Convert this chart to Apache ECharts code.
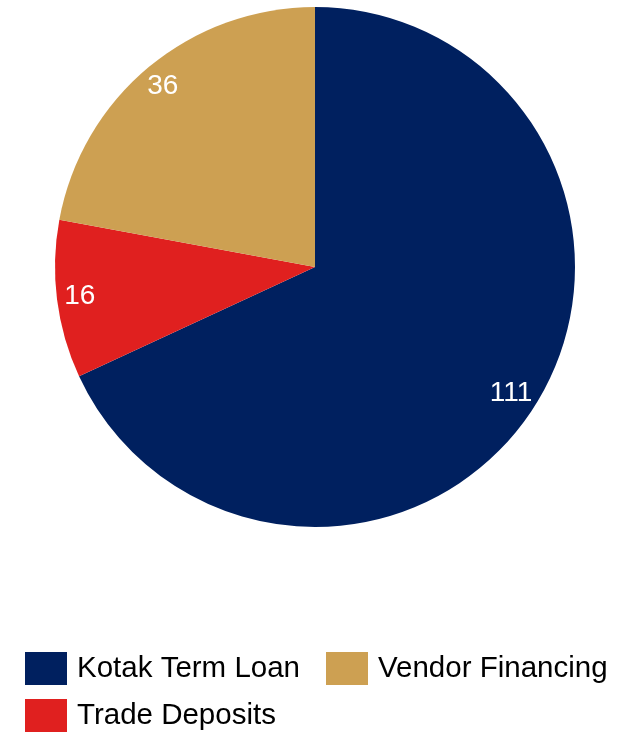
<!DOCTYPE html>
<html>
<head>
<meta charset="utf-8">
<script src="https://cdn.jsdelivr.net/npm/echarts@6/dist/echarts.min.js"></script>
<style>
html,body{margin:0;padding:0;background:#fff;}
#chart{width:636px;height:735px;}
</style>
</head>
<body>
<div id="chart"></div>
<script>
// Data (series order as drawn clockwise from 12 o'clock)
const categories = ['Kotak Term Loan', 'Trade Deposits', 'Vendor Financing'];
const values = [111, 16, 36];
const colors = ['#00205F', '#E0201F', '#CDA052'];
const legendRow1 = ['Kotak Term Loan', 'Vendor Financing'];
const legendRow2 = ['Trade Deposits'];

const pieData = categories.map((c, i) => ({ name: c, value: values[i], itemStyle: { color: colors[i] } }));
const labelData = categories.map((c, i) => ({ name: c, value: values[i] }));

const chart = echarts.init(document.getElementById('chart'), null, { renderer: 'canvas' });
const legendText = { fontSize: 29.5, fontFamily: 'Liberation Sans, Arial, sans-serif', color: '#000',
  lineHeight: 33, padding: [4, 0, 0, 5] };
chart.setOption({
  animation: false,
  color: colors,
  legend: [
    { data: legendRow1, left: 25, top: 650, padding: 0, itemWidth: 42, itemHeight: 33, itemGap: 26,
      icon: 'rect', textStyle: legendText, selectedMode: false },
    { data: legendRow2, left: 25, top: 697, padding: 0, itemWidth: 42, itemHeight: 33, itemGap: 26,
      icon: 'rect', textStyle: legendText, selectedMode: false }
  ],
  series: [
    {
      type: 'pie',
      center: [315, 267],
      radius: [0, 260],
      startAngle: 90,
      clockwise: true,
      label: { show: false },
      labelLine: { show: false },
      emphasis: { disabled: true },
      silent: true,
      data: pieData
    },
    {
      type: 'pie',
      center: [315, 267],
      radius: [204, 260],
      startAngle: 90,
      clockwise: true,
      silent: true,
      emphasis: { disabled: true },
      itemStyle: { color: 'rgba(0,0,0,0)' },
      label: {
        show: true, position: 'inside', formatter: '{c}',
        color: '#fff', fontSize: 28, fontFamily: 'Liberation Sans, Arial, sans-serif',
        offset: [-2, 0]
      },
      labelLine: { show: false },
      legendHoverLink: false,
      data: labelData.map(d => ({ ...d, name: d.name + ' ' }))
    }
  ]
});
</script>
</body>
</html>
